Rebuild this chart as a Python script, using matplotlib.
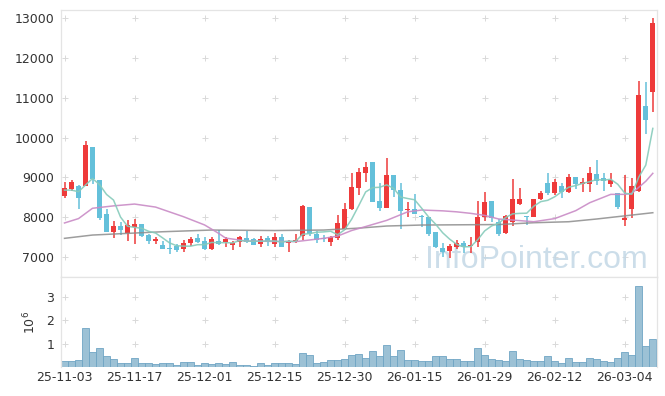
import numpy as np
import pandas as pd
import matplotlib
matplotlib.use('Agg')
import matplotlib.pyplot as plt

# ===== data =====

tick_labels = ['25-11-03', '25-11-17', '25-12-01', '25-12-15', '25-12-30',
               '26-01-15', '26-01-29', '26-02-12', '26-03-04']

open_ = [8535, 8712, 8780, 8787, 9760, 8930, 8067, 7630, 7773, 7590,
         7755, 7815, 7546, 7395, 7294, 7227, 7277, 7186, 7337, 7478,
         7395, 7194, 7395, 7378, 7294, 7378, 7462, 7437, 7312, 7462,
         7312, 7488, 7337, 7400, 7521, 8243, 7571, 7460, 7378, 7478,
         7697, 8193, 8722, 9115, 9376, 8402, 8234, 9056, 8679, 8175,
         8193, 8010, 7992, 7629, 7211, 7152, 7252, 7337, 7260, 7378,
         7992, 8402, 7881, 7604, 7865, 8318, 8010, 8007, 8444, 8863,
         8612, 8780, 8636, 8998, 8822, 8822, 9082, 8990, 8822, 8595,
         7930, 8193, 8661, 10790, 11150]
high = [8873, 8930, 8800, 9912, 9760, 8930, 8193, 7900, 7881, 7923,
        7941, 7815, 7580, 7488, 7395, 7463, 7330, 7420, 7488, 7571,
        7500, 7503, 7672, 7488, 7395, 7520, 7647, 7462, 7520, 7520,
        7588, 7570, 7420, 7571, 8301, 8243, 7650, 7550, 7530, 8050,
        8344, 9099, 9225, 9376, 9376, 8847, 9477, 9056, 8847, 8369,
        8580, 8050, 7992, 7629, 7353, 7312, 7420, 7400, 7488, 8402,
        8620, 8402, 7950, 8050, 8950, 8722, 8020, 8460, 8650, 9100,
        8950, 8847, 9082, 9000, 8973, 9265, 9434, 9115, 9115, 8595,
        9050, 8980, 11430, 11400, 13000]
low = [8485, 8654, 8193, 8787, 8830, 7923, 7620, 7463, 7546, 7395,
       7312, 7500, 7330, 7312, 7194, 7068, 7110, 7111, 7277, 7337,
       7169, 7169, 7294, 7236, 7169, 7236, 7337, 7294, 7236, 7270,
       7236, 7252, 7111, 7337, 7420, 7520, 7350, 7380, 7270, 7420,
       7672, 8176, 8553, 8873, 8385, 8150, 8218, 8510, 7690, 7992,
       8075, 7740, 7520, 7230, 6985, 6960, 7200, 7100, 7085, 7252,
       7906, 7880, 7520, 7570, 7780, 8300, 7800, 7990, 8420, 8560,
       8560, 8470, 8612, 8700, 8636, 8636, 8805, 8661, 8762, 8200,
       7780, 7975, 8640, 10100, 10650]
close = [8722, 8873, 8485, 9811, 8950, 7966, 7630, 7773, 7672, 7798,
         7823, 7521, 7395, 7445, 7194, 7186, 7169, 7337, 7445, 7378,
         7194, 7445, 7312, 7437, 7353, 7488, 7378, 7294, 7445, 7378,
         7488, 7252, 7395, 7420, 8276, 7571, 7420, 7440, 7503, 7840,
         8193, 8747, 9124, 9250, 8385, 8234, 9056, 8679, 8158, 8200,
         8075, 7990, 7571, 7252, 7127, 7269, 7337, 7252, 7290, 7992,
         8385, 7966, 7571, 8032, 8444, 8444, 7990, 8444, 8612, 8612,
         8890, 8636, 8998, 8822, 8890, 9099, 8914, 8914, 8930, 8260,
         7980, 8780, 11070, 10440, 12880]
# volume in millions
volume = [0.27, 0.27, 0.31, 1.67, 0.66, 0.81, 0.49, 0.36, 0.17, 0.17,
          0.39, 0.17, 0.17, 0.13, 0.17, 0.17, 0.09, 0.23, 0.23, 0.09,
          0.17, 0.13, 0.17, 0.13, 0.23, 0.09, 0.09, 0.04, 0.17, 0.09,
          0.17, 0.17, 0.17, 0.13, 0.60, 0.51, 0.17, 0.21, 0.31, 0.31,
          0.36, 0.51, 0.56, 0.39, 0.70, 0.47, 0.94, 0.47, 0.73, 0.31,
          0.31, 0.27, 0.27, 0.47, 0.47, 0.34, 0.34, 0.27, 0.27, 0.81,
          0.51, 0.36, 0.31, 0.27, 0.70, 0.36, 0.31, 0.27, 0.27, 0.47,
          0.27, 0.17, 0.39, 0.23, 0.23, 0.39, 0.36, 0.27, 0.23, 0.39,
          0.66, 0.51, 3.49, 0.91, 1.20]

# 5-day average: first four points, the rest from closes
ma5_head = [8677, 8677, 8636, 8805]
# 20 / 60 day averages read at a few candles
ma20_idx = [0, 2, 4, 7, 10, 13, 17, 20, 22, 23, 26, 33, 37, 39, 41, 43, 46,
            49, 51, 54, 56, 58, 60, 62, 64, 67, 70, 73, 75, 78, 80, 81, 83, 84]
ma20 = [7850, 7960, 8220, 8280, 8326, 8250, 8007, 7800, 7590, 7470, 7395,
        7380, 7463, 7520, 7660, 7760, 7915, 8130, 8176, 8155, 8130, 8092,
        8040, 7950, 7923, 7881, 7960, 8160, 8360, 8570, 8570, 8595, 8900, 9099]
ma60_idx = [0, 4, 9, 14, 21, 30, 37, 42, 46, 51, 62, 67, 72, 76, 84]
ma60 = [7463, 7546, 7588, 7629, 7672, 7660, 7672, 7720, 7773, 7798, 7810,
        7856, 7881, 7950, 8108]

# ===== plot =====

RED = '#ee3a3a'
BLUE = '#64c0da'
GRID = '#d9d9d9'
FRAME = '#e4e4e4'
TXT = '#333333'

n = len(close)
x = np.arange(n)
o = np.array(open_)
c = np.array(close)
up = c >= o
colors = np.where(up, RED, BLUE)

ma5 = pd.Series(close, dtype=float).rolling(5).mean().to_numpy()
ma5[:4] = ma5_head

fig = plt.figure(figsize=(6.65, 3.96), dpi=100)
W, H = 665.0, 396.0
ax = fig.add_axes([61 / W, 1 - 277 / H, 596 / W, 267 / H])
axv = fig.add_axes([61 / W, 1 - 367 / H, 596 / W, 90 / H], sharex=ax)

ax.text(0.985, 0.034, 'InfoPointer.com', transform=ax.transAxes, ha='right',
        va='baseline', fontsize=23, family=['Liberation Sans Narrow', 'Liberation Sans'],
        color='#c3d8e6', alpha=0.85, zorder=1)

# grid crosses
xt = np.arange(0, n, 10)
yt = np.arange(7000, 13001, 1000)
gx, gy = np.meshgrid(xt, yt)
ax.scatter(gx.ravel(), gy.ravel(), marker='+', s=14, color=GRID, lw=0.7, zorder=0)
gx, gy = np.meshgrid(xt, [1, 2, 3])
axv.scatter(gx.ravel(), gy.ravel(), marker='+', s=14, color=GRID, lw=0.7, zorder=0)

ax.vlines(x, low, high, colors=colors, lw=1.1, zorder=3)
body = np.maximum(np.abs(c - o), 25)
ax.bar(x, body, bottom=np.minimum(o, c), width=0.72, color=colors, zorder=3)

ax.plot(ma60_idx, ma60, color='#8c8c8c', lw=1.1, alpha=0.85, zorder=4)
ax.plot(ma20_idx, ma20, color='#c98bc6', lw=1.1, alpha=0.9, zorder=4)
ax.plot(x, ma5, color='#86cbbb', lw=1.1, alpha=0.9, zorder=4)

ax.set_ylim(6490, 13210)
ax.set_yticks(yt)
ax.set_xlim(-0.5, 84.6)
ax.tick_params(axis='x', bottom=False, labelbottom=False)

axv.bar(x, volume, width=1.0, color='#9cc1d5', edgecolor='#6fa5c4', lw=0.6, zorder=2)
axv.set_ylim(0, 3.87)
axv.set_yticks([1, 2, 3])
axv.set_xticks(xt)
axv.set_xticklabels(tick_labels)
axv.set_ylabel('$10^6$', color=TXT, fontsize=9, labelpad=6)

for a in (ax, axv):
    a.tick_params(length=0, labelsize=9, labelcolor=TXT, pad=5)
    for s in a.spines.values():
        s.set_color(FRAME)
        s.set_linewidth(0.9)
axv.spines['bottom'].set_visible(False)
axv.tick_params(axis='x', pad=3)

fig.savefig('out.png', dpi=100)
